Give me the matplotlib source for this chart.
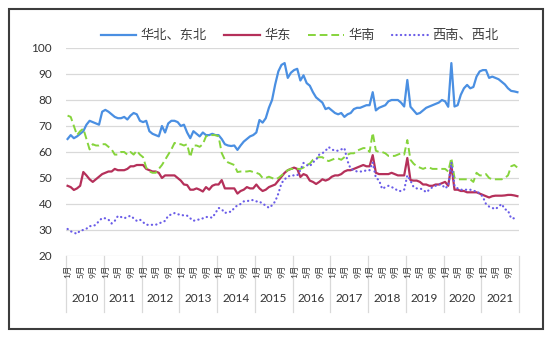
import numpy as np
import matplotlib
matplotlib.use("Agg")
import matplotlib.pyplot as plt
from matplotlib.patches import Rectangle
import matplotlib.transforms as mtransforms

plt.rcParams['font.family'] = ['Lato', 'Noto Sans CJK SC', 'DejaVu Sans']

# 月度数据 2010.01 - 2021.12
years = list(range(2010, 2022))
month_ticks = [1, 5, 9]

huabei_dongbei = [
    65, 66.5, 65.3, 66, 67, 68, 70.5, 72, 71.5, 71, 70.5, 75.5,
    76.2, 75.5, 74.5, 73.5, 73, 73, 73.5, 72.5, 74, 75, 74.5, 72,
    71.5, 72, 68, 67, 66.5, 66, 70, 67.5, 71, 72, 72, 71.5,
    70, 70.5, 67.5, 65.3, 68, 67, 66, 67.5, 66.5, 66.5, 67, 66.5,
    66.5, 65, 63, 62.5, 62.3, 62.5, 60.8, 62.5, 64, 65, 66, 66.5,
    67.5, 72.3, 71.3, 73, 77, 80, 86, 91, 93.5, 94.2, 88.5, 90.5,
    91.5, 92, 87.5, 89.5, 86.5, 85.5, 83, 81, 80, 79, 76.5, 77,
    76, 75, 74.5, 75, 73.5, 74.5, 75, 76.5, 77, 77, 77.5, 78,
    78, 83, 76, 77, 77.5, 78, 79.5, 80, 80, 80, 79, 77.5,
    87.7, 77.4, 76, 74.6, 75, 76, 77, 77.5, 78, 78.5, 79, 80,
    79.5, 77.4, 94.2, 77.5, 78, 82, 84.5, 85.8, 84.5, 85, 89, 91,
    91.5, 91.5, 88.5, 89, 88.5, 88, 87, 86, 84.5, 83.5, 83.3, 83,
]
huadong = [
    47, 46.5, 45.4, 46, 47, 52.3, 51, 49.5, 48.5, 49.5, 50.5, 51.5,
    52, 52.5, 52.5, 53.5, 53, 53, 53, 53.5, 54.5, 54.5, 55, 55,
    55, 53.5, 53, 52.5, 52.5, 52, 50, 51, 51, 51, 51, 50,
    49, 47.5, 47.3, 45.5, 45.5, 46, 45.5, 44.8, 46.5, 45.5, 47, 47.5,
    47.5, 49.2, 46, 46, 46, 46, 44, 45, 45.5, 46.5, 46, 46,
    47.5, 46, 45, 45.5, 46.5, 47, 47.5, 49, 50.5, 52, 53, 53.5,
    54, 53.5, 50.4, 51.5, 51, 49, 48.5, 47.7, 48.5, 49.5, 49, 49.5,
    50.5, 51, 51, 51.5, 52.5, 53, 53, 53.5, 54, 54.5, 55, 54.5,
    54.5, 58.8, 52, 51.5, 51.5, 51.5, 51.5, 52, 51.5, 51, 51, 51,
    57.7, 49.2, 49, 49, 48.5, 47.5, 47.5, 47, 47, 47.5, 47.5, 48,
    48.5, 47, 55, 45.5, 45.5, 45, 45, 44.5, 44.5, 44.5, 44.5, 44,
    43.5, 43, 42.5, 43, 43.2, 43.2, 43.2, 43.3, 43.5, 43.5, 43.3, 43,
]
huanan = [
    74, 73.5, 70, 66.5, 68, 69, 65, 61, 63, 62.5, 62.5, 63,
    63, 62, 61, 59, 59, 60, 60, 59, 60, 59, 60.5, 59,
    58, 54, 52.5, 52, 52, 53.5, 55, 57, 59, 61, 63.5, 63,
    63, 62.5, 63, 58, 62.5, 62.5, 62, 63, 66, 66.5, 66.5, 66.5,
    66, 59.6, 57, 56, 55.5, 55, 52.3, 52.5, 52.5, 52.5, 52.7, 52.3,
    52, 51.5, 50, 50, 50.5, 50, 49.5, 50, 51, 52, 53, 53.5,
    53.5, 53.5, 53.5, 54, 55, 55.5, 57, 57.7, 58, 58, 57, 56.5,
    57, 57.5, 57.5, 57, 58, 59, 59.5, 59.5, 60.5, 61, 61.5, 61.5,
    60, 67.4, 60.5, 60, 60, 59.5, 58.5, 58.5, 58.5, 59, 59.5, 59,
    64.6, 57, 55.5, 54.5, 54, 53.5, 54, 54, 53.5, 53.5, 53.5, 53.5,
    53.5, 52.5, 57.7, 50, 49.5, 49.5, 49.5, 49.5, 49.5, 48.5, 52, 51,
    51, 51.5, 50, 49.5, 49.5, 49.5, 49.5, 50, 51, 54.5, 55, 54,
]
xinan_xibei = [
    30.4, 29.5, 29, 28.5, 29.8, 30, 30.5, 31.5, 31.5, 32, 33.5, 34.6,
    34.5, 34, 32.5, 33.5, 35.4, 35, 34.5, 35, 35.5, 34.5, 33.5, 34,
    33, 32, 32, 32, 32, 32.5, 33, 33.5, 35.5, 36, 36.5, 36,
    36, 35.5, 35.5, 34.5, 33.5, 34, 34, 34.5, 35, 35, 34.7, 36.5,
    38.5, 38, 36.5, 37, 37, 38.5, 39.5, 40, 41, 41, 41.5, 41.5,
    41, 41, 40, 39.5, 38.5, 39.5, 41, 44, 48, 49.5, 50.5, 51,
    51, 51, 53, 55.8, 55, 54.5, 56, 57, 59, 59.5, 60.5, 61.9,
    61, 60.5, 60.5, 61, 61.5, 56.5, 53.5, 53, 52.5, 52.5, 52.5, 53,
    53, 56, 50, 49.2, 45.8, 46.5, 47, 46.5, 46, 45, 45, 45.5,
    51, 49, 46.5, 46, 46, 45.5, 44.5, 45.5, 46.5, 47, 47.5, 47.5,
    46, 47, 56, 47, 46, 45.5, 45.5, 45.5, 45.5, 45, 45, 44,
    42.8, 40, 39, 38.5, 38, 39, 40, 38, 37.5, 34.5, 34.5, 34.5,
]

n = len(huabei_dongbei)
x = np.arange(n)

fig = plt.figure(figsize=(5.59, 3.40), dpi=100)
fig.patches.append(Rectangle((9 / 559, 11 / 340), 534 / 559, 320 / 340,
                             transform=fig.transFigure, fill=False,
                             edgecolor='#3c3c3c', linewidth=1.5))

ax = fig.add_axes([66 / 559, 84 / 340, 453 / 559, 208 / 340])
ax.plot(x, huabei_dongbei, color='#4A8FE2', lw=1.6, label='华北、东北')
ax.plot(x, huadong, color='#B5305A', lw=1.6, label='华东')
ax.plot(x, huanan, color='#86D43C', lw=1.4, ls=(0, (4, 2)), label='华南')
ax.plot(x, xinan_xibei, color='#6A5CE8', lw=1.6, ls=(0, (0.1, 1.9)),
        dash_capstyle='round', label='西南、西北')

ax.set_xlim(-0.5, n - 0.5)
ax.set_ylim(20, 100)
ax.set_yticks(range(20, 101, 10))
ax.grid(axis='y', color='#d9d9d9', lw=0.9)
ax.set_axisbelow(True)
for s in ax.spines.values():
    s.set_visible(False)
ax.tick_params(axis='y', length=0, pad=10, labelsize=8.5, labelcolor='#333333')
ax.set_xticks([])

# 分类轴：月份、年份与分隔线
trans = mtransforms.blended_transform_factory(ax.transData, ax.transAxes)
for k in range(len(years) + 1):
    ax.plot([k * 12 - 0.5] * 2, [0, -0.27], transform=trans, color='#d9d9d9',
            lw=0.9, clip_on=False)
for k, yr in enumerate(years):
    for m in month_ticks:
        ax.text(k * 12 + m - 1, -0.04, f'{m}月', transform=trans, rotation=90,
                ha='center', va='top', fontsize=6, color='#333333')
    ax.text(k * 12 + 5.5, -0.205, str(yr), transform=trans, ha='center',
            va='center', fontsize=8.5, color='#333333')

fig.legend(loc='center', bbox_to_anchor=(0.536, 0.897), ncol=4, frameon=False,
           fontsize=9.5, handlelength=2.7, handletextpad=0.35, columnspacing=1.3,
           labelcolor='#404040')

fig.savefig('out.png', dpi=100)
